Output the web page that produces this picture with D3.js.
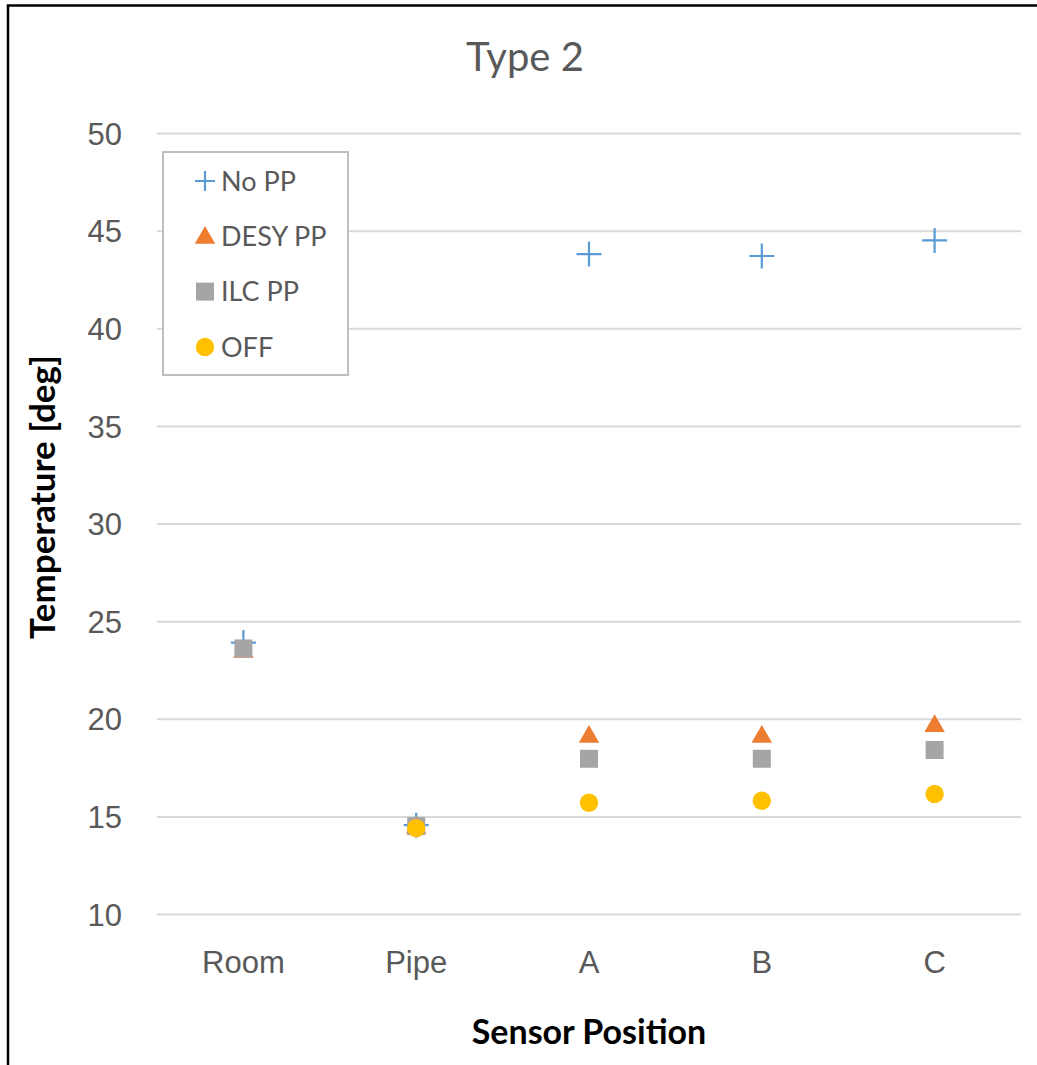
<!DOCTYPE html>
<html>
<head>
<meta charset="utf-8">
<script src="https://cdn.jsdelivr.net/npm/d3@7"></script>
<style>
  body { margin: 0; background: #fff; }
  svg { display: block; font-family: Lato, "Open Sans", sans-serif; }
</style>
</head>
<body>
<div id="chart"></div>
<script>
// data
var categories = ["Room", "Pipe", "A", "B", "C"];
var noPP = [23.9, 14.55, 43.8, 43.7, 44.5];
var desyPP = [23.5, 14.5, 19.15, 19.15, 19.7];
var ilcPP = [23.6, 14.5, 17.95, 17.95, 18.4];
var offPP = [null, 14.4, 15.7, 15.8, 16.15];
var seriesNames = ["No PP", "DESY PP", "ILC PP", "OFF"];
var yTicks = [10, 15, 20, 25, 30, 35, 40, 45, 50];

var width = 1037, height = 1065;
var plot = { left: 157, right: 1021, top: 133, bottom: 914 };

var svg = d3.select("#chart").append("svg")
  .attr("width", width)
  .attr("height", height);

svg.append("rect").attr("width", width).attr("height", height).attr("fill", "#fff");

// chart border (only left and top are visible in the picture)
svg.append("rect")
  .attr("x", 8).attr("y", 5.5)
  .attr("width", 1100).attr("height", 1100)
  .attr("fill", "none")
  .attr("stroke", "#000")
  .attr("stroke-width", 2.5);

var x = d3.scaleBand().domain(categories).range([plot.left, plot.right]);
var y = d3.scaleLinear().domain([10, 50]).range([plot.bottom, plot.top]);

// gridlines + y labels
var yAxis = d3.axisLeft(y).tickValues(yTicks).tickSize(-(plot.right - plot.left)).tickPadding(35);
var gy = svg.append("g")
  .attr("transform", "translate(" + plot.left + ",0)")
  .call(yAxis);
gy.select(".domain").remove();
gy.selectAll(".tick line").attr("stroke", "#d9d9d9").attr("stroke-width", 2);
gy.selectAll(".tick text")
  .attr("fill", "#595959")
  .style("font-size", "31px")
  .attr("dy", "0.36em");

// x labels
var xAxis = d3.axisBottom(x).tickSize(0).tickPadding(0);
var gx = svg.append("g")
  .attr("transform", "translate(0," + plot.bottom + ")")
  .call(xAxis);
gx.select(".domain").remove();
gx.selectAll(".tick text")
  .attr("fill", "#595959")
  .style("font-size", "31px")
  .attr("y", 59)
  .attr("dy", 0);

var cx = function (i) { return x(categories[i]) + x.bandwidth() / 2; };

var symbols = [
  { sym: d3.symbolCross, color: "#5b9bd5", values: noPP },
  { sym: d3.symbolTriangle, color: "#ed7d31", values: desyPP },
  { sym: d3.symbolSquare, color: "#a5a5a5", values: ilcPP },
  { sym: d3.symbolCircle, color: "#ffc000", values: offPP }
];

// plus marker drawn as two strokes
function drawCross(g, px, py, size, color) {
  g.append("path")
    .attr("d", "M" + (px - size / 2) + "," + py + "H" + (px + size / 2) +
      "M" + px + "," + (py - size / 2) + "V" + (py + size / 2))
    .attr("stroke", color)
    .attr("stroke-width", 2.2)
    .attr("fill", "none");
}

function drawMarker(g, s, px, py, big) {
  if (s.sym === d3.symbolCross) {
    drawCross(g, px, py, big ? 25 : 20, s.color);
    return;
  }
  var area;
  if (s.sym === d3.symbolTriangle) area = 20 * 20 * Math.sqrt(3) / 4 * 1.05;
  else if (s.sym === d3.symbolSquare) area = 18 * 18;
  else area = Math.PI * 9.2 * 9.2;
  var path = d3.symbol().type(s.sym).size(area)();
  var dy = 0;
  if (s.sym === d3.symbolTriangle) dy = 1.5; // center on bounding box
  g.append("path")
    .attr("d", path)
    .attr("transform", "translate(" + px + "," + (py + dy) + ")")
    .attr("fill", s.color);
}

var marks = svg.append("g");
symbols.forEach(function (s) {
  s.values.forEach(function (v, i) {
    if (v == null) return;
    drawMarker(marks, s, cx(i), y(v), true);
  });
});

// legend
var legend = svg.append("g");
legend.append("rect")
  .attr("x", 163).attr("y", 152)
  .attr("width", 185).attr("height", 223)
  .attr("fill", "#fff")
  .attr("stroke", "#bfbfbf")
  .attr("stroke-width", 2);

seriesNames.forEach(function (name, i) {
  var ly = 181 + i * 55.3;
  drawMarker(legend, symbols[i], 205, ly, false);
  legend.append("text")
    .attr("x", 221)
    .attr("y", ly)
    .attr("dy", "0.36em")
    .attr("fill", "#595959")
    .style("font-size", "27px")
    .text(name);
});

// titles
svg.append("text")
  .attr("x", 525).attr("y", 71)
  .attr("text-anchor", "middle")
  .attr("fill", "#595959")
  .style("font-size", "40px")
  .text("Type 2");

svg.append("text")
  .attr("x", (plot.left + plot.right) / 2).attr("y", 1044)
  .attr("text-anchor", "middle")
  .attr("fill", "#000")
  .style("font-size", "34px")
  .style("font-weight", "bold")
  .text("Sensor Position");

svg.append("text")
  .attr("transform", "translate(55,497) rotate(-90)")
  .attr("text-anchor", "middle")
  .attr("fill", "#000")
  .style("font-size", "35px")
  .style("font-weight", "bold")
  .text("Temperature [deg]");
</script>
</body>
</html>
